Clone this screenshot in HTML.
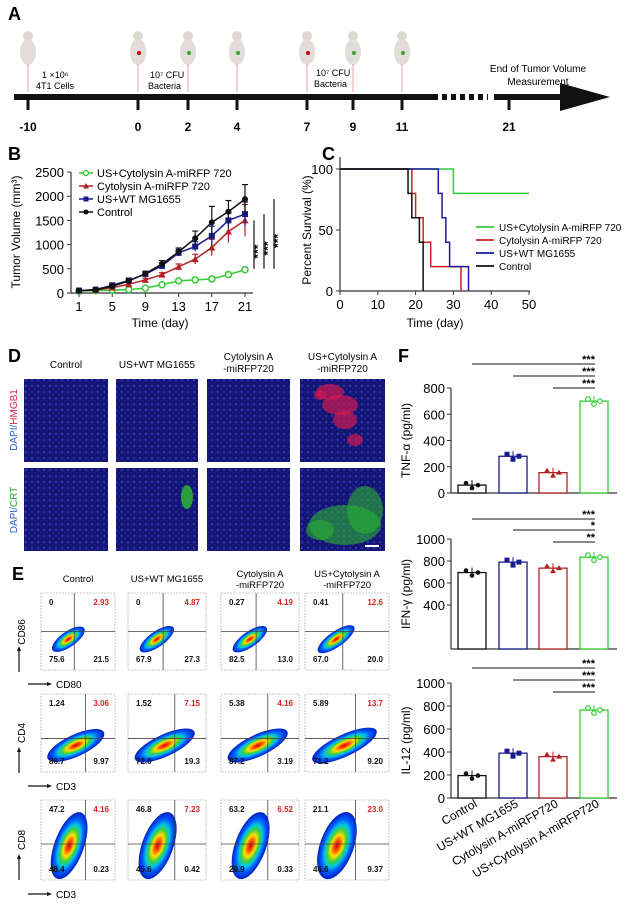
<!DOCTYPE html>
<html><head><meta charset="utf-8">
<style>
html,body{margin:0;padding:0;background:#fff;}
svg{display:block;font-family:"Liberation Sans",Arial,sans-serif;}
</style></head>
<body>
<svg id="fig" width="628" height="908" viewBox="0 0 628 908" xmlns="http://www.w3.org/2000/svg">
<defs>
<radialGradient id="flow" cx="50%" cy="50%" r="50%">
<stop offset="0" stop-color="#d00000"/><stop offset="0.18" stop-color="#ff6000"/><stop offset="0.32" stop-color="#ffe000"/><stop offset="0.48" stop-color="#40d040"/><stop offset="0.62" stop-color="#00c8e0"/><stop offset="0.78" stop-color="#0060ff"/><stop offset="1" stop-color="#0020c0"/>
</radialGradient>
<pattern id="cells" width="6" height="6" patternUnits="userSpaceOnUse">
<rect width="6" height="6" fill="#121470"/><circle cx="2" cy="2" r="1.3" fill="#2a30b0"/><circle cx="5" cy="4.5" r="1" fill="#1c2290"/>
</pattern>
</defs>

<!-- PANEL A -->
<g>
<text x="8" y="20" font-size="18" font-weight="bold">A</text>
<g id="mice"></g>
<text x="42" y="78" font-size="9">1 ×10⁶</text>
<text x="36" y="89" font-size="9">4T1 Cells</text>
<text x="150" y="78" font-size="9">10⁷ CFU</text>
<text x="148" y="89" font-size="9">Bacteria</text>
<text x="316" y="76" font-size="9">10⁷ CFU</text>
<text x="314" y="87" font-size="9">Bacteria</text>
<text x="538" y="72" font-size="10" text-anchor="middle">End of Tumor Volume</text>
<text x="538" y="85" font-size="10" text-anchor="middle">Measurement</text>
<rect x="14" y="94" width="424" height="6" fill="#111"/>
<line x1="442" y1="97" x2="488" y2="97" stroke="#111" stroke-width="6" stroke-dasharray="5,4"/>
<rect x="494" y="94" width="66" height="6" fill="#111"/>
<polygon points="560,83 610,97 560,111" fill="#111"/>
<g id="aticks"></g>
</g>

<!-- PANEL B -->
<g>
<text x="8" y="160" font-size="18" font-weight="bold">B</text>
<text transform="translate(20,232) rotate(-90)" font-size="12" text-anchor="middle">Tumor Volume (mm³)</text>
<text x="160" y="327" font-size="12" text-anchor="middle">Time (day)</text>
<g id="chartB"></g>
</g>

<!-- PANEL C -->
<g>
<text x="322" y="160" font-size="18" font-weight="bold">C</text>
<text transform="translate(311,230) rotate(-90)" font-size="12" text-anchor="middle">Percent Survival (%)</text>
<text x="435" y="327" font-size="12" text-anchor="middle">Time (day)</text>
<g id="chartC"></g>
</g>

<!-- PANEL D -->
<g>
<text x="8" y="362" font-size="18" font-weight="bold">D</text>
<g id="panelD"></g>
</g>

<!-- PANEL E -->
<g>
<text x="12" y="580" font-size="18" font-weight="bold">E</text>
<g id="panelE"></g>
</g>

<!-- PANEL F -->
<g>
<text x="398" y="362" font-size="18" font-weight="bold">F</text>
<g id="panelF"></g>
</g>
</svg>

<script>
// ---------- Panel B data ----------
const bDays = [1,3,5,7,9,11,13,15,17,19,21];
const bTicks = [1,5,9,13,17,21];
const bYTicks = [0,500,1000,1500,2000,2500];
const bNames = ["US+Cytolysin A-miRFP 720","Cytolysin A-miRFP 720","US+WT MG1655","Control"];
const bControl = [50,70,140,250,400,600,850,1130,1460,1680,1940];
const bWT = [50,70,160,260,390,560,830,960,1180,1500,1630];
const bCyt = [50,60,110,180,270,380,540,700,940,1270,1500];
const bUSCyt = [40,50,60,70,100,170,250,270,290,380,480];
const bErrControl = [10,15,30,40,50,70,80,150,330,230,300];
const bErrWT = [10,15,30,40,40,60,70,100,200,150,250];
const bErrCyt = [10,10,20,30,30,40,60,100,170,230,330];
const bErrUSCyt = [10,10,10,15,20,20,30,40,50,50,50];
// ---------- Panel C data ----------
const cTicksX = [0,10,20,30,40,50];
const cTicksY = [0,50,100];
const cUSCytT = [0,30,30,50];   const cUSCytS = [100,100,80,80];
const cCytT = [0,19,19,20,20,22,22,24,24,32,32]; const cCytS = [100,100,80,80,60,60,40,40,20,20,0];
const cWTT = [0,26,26,27,27,28,28,29,29,34,34]; const cWTS = [100,100,80,80,60,60,40,40,20,20,0];
const cCtrlT = [0,18,18,19,19,21,21,22,22]; const cCtrlS = [100,100,80,80,60,60,40,40,0];
// ---------- Panel F data ----------
const fGroups = ["Control","US+WT MG1655","Cytolysin A-miRFP720","US+Cytolysin A-miRFP720"];
const fTNF = [60,280,155,700];
const fIFN = [695,790,735,835];
const fIL12 = [195,390,360,765];
const fTNFTicks = [0,200,400,600,800];
const fIFNTicks = [400,600,800,1000];
const fIL12Ticks = [0,200,400,600,800,1000];
// ---------- Panel E data ----------
const eRow1 = [["0","2.93","75.6","21.5"],["0","4.87","67.9","27.3"],["0.27","4.19","82.5","13.0"],["0.41","12.6","67.0","20.0"]];
const eRow2 = [["1.24","3.06","86.7","9.97"],["1.52","7.15","72.0","19.3"],["5.38","4.16","87.2","3.19"],["5.89","13.7","71.2","9.20"]];
const eRow3 = [["47.2","4.16","48.4","0.23"],["46.8","7.23","45.6","0.42"],["63.2","6.52","29.9","0.33"],["21.1","23.0","46.6","9.37"]];

const NS="http://www.w3.org/2000/svg";
function mk(parent,tag,attrs,text){const e=document.createElementNS(NS,tag);for(const k in attrs)e.setAttribute(k,attrs[k]);if(text!==undefined)e.textContent=text;parent.appendChild(e);return e;}

// ---------- Panel A ----------
(function(){
  const mice=document.getElementById('mice');
  const mx=[28,138,188,237,307,353,402];
  const dots=["#c00","#c00","#3a3","#3a3","#c00","#3a3","#3a3"];
  mx.forEach((x,i)=>{
    const g=mk(mice,'g',{});
    
    
    mk(g,'ellipse',{cx:x,cy:36,rx:5,ry:5,fill:'#ddd8d2'});
    mk(g,'ellipse',{cx:x,cy:52,rx:8,ry:13,fill:'#e2ddd7'});
    mk(g,'line',{x1:x,y1:64,x2:x,y2:92,stroke:'#e8a0a0','stroke-width':1});
    if(i>0)mk(g,'circle',{cx:x+1,cy:53,r:2,fill:dots[i]});
  });
  const at=document.getElementById('aticks');
  const tl=[-10,0,2,4,7,9,11,21], tx=[28,138,188,237,307,353,402,509];
  tl.forEach((t,i)=>{
    const l=mk(at,'rect',{x:tx[i]-1.5,y:100,width:3,height:10,fill:'#111'});
    
    
    const tt=mk(at,'text',{x:tx[i],y:131,'font-size':12,'font-weight':'bold','text-anchor':'middle'},String(t));
    
    
  });
})();

// ---------- Panel B ----------
(function(){
  const g=document.getElementById('chartB');
  const x=d=>79+(d-1)*(245-79)/20;
  const y=v=>293-v*(293-172)/2500;
  mk(g,'line',{x1:71,y1:y(2500),x2:71,y2:293,stroke:'#333','stroke-width':1.2});
  mk(g,'line',{x1:71,y1:293,x2:253,y2:293,stroke:'#333','stroke-width':1.2});
  bYTicks.forEach(v=>{
    mk(g,'line',{x1:67,y1:y(v),x2:71,y2:y(v),stroke:'#333'});
    const t=mk(g,'text',{x:64,y:y(v)+5,'font-size':13,'text-anchor':'end'},String(v));
    
    
  });
  bTicks.forEach(d=>{
    mk(g,'line',{x1:x(d),y1:293,x2:x(d),y2:297,stroke:'#333'});
    const t=mk(g,'text',{x:x(d),y:311,'font-size':13,'text-anchor':'middle'},String(d));
    
    
  });
  const series=[[bControl,bErrControl,'#111','circle'],[bWT,bErrWT,'#1a1a8c','square'],[bCyt,bErrCyt,'#b22222','tri'],[bUSCyt,bErrUSCyt,'#33cc33','open']];
  series.slice().reverse().forEach(s=>{
    const [vals,errs,col,shape]=s;
    let d='';
    vals.forEach((v,i)=>{d+=(i?'L':'M')+x(bDays[i])+','+y(v);});
    const p=mk(g,'path',{d:d,fill:'none',stroke:col,'stroke-width':1.5});
    
    
    vals.forEach((v,i)=>{
      const cx=x(bDays[i]),cy=y(v);
      mk(g,'line',{x1:cx,y1:y(v+errs[i]),x2:cx,y2:y(Math.max(0,v-errs[i])),stroke:col,'stroke-width':1.2});
      mk(g,'line',{x1:cx-3,y1:y(v+errs[i]),x2:cx+3,y2:y(v+errs[i]),stroke:col,'stroke-width':1.2});
      let m;
      if(shape==='circle')m=mk(g,'circle',{cx:cx,cy:cy,r:3,fill:col});
      else if(shape==='square')m=mk(g,'rect',{x:cx-3,y:cy-3,width:6,height:6,fill:col});
      else if(shape==='tri')m=mk(g,'polygon',{points:`${cx},${cy-3.5} ${cx+3.5},${cy+3} ${cx-3.5},${cy+3}`,fill:col});
      else m=mk(g,'circle',{cx:cx,cy:cy,r:3,fill:'#fff',stroke:col,'stroke-width':1.5});
      
      
    });
  });
  const lc=['#33cc33','#b22222','#1a1a8c','#111'], ls=['open','tri','square','circle'];
  bNames.forEach((n,i)=>{
    const ly=173+i*13;
    const lg=mk(g,'g',{});
    
    
    mk(lg,'line',{x1:79,y1:ly,x2:93,y2:ly,stroke:lc[i],'stroke-width':1.5});
    if(ls[i]==='open')mk(lg,'circle',{cx:86,cy:ly,r:2.5,fill:'#fff',stroke:lc[i],'stroke-width':1.3});
    else if(ls[i]==='tri')mk(lg,'polygon',{points:`86,${ly-3} 89,${ly+2.5} 83,${ly+2.5}`,fill:lc[i]});
    else if(ls[i]==='square')mk(lg,'rect',{x:83.5,y:ly-2.5,width:5,height:5,fill:lc[i]});
    else mk(lg,'circle',{cx:86,cy:ly,r:2.5,fill:lc[i]});
    mk(lg,'text',{x:97,y:ly+4,'font-size':11},n);
  });
  [[254,y(1500),y(500)],[264,y(1630),y(500)],[274,y(1940),y(500)]].forEach(s=>{
    const l=mk(g,'line',{x1:s[0],y1:s[1],x2:s[0],y2:s[2],stroke:'#111','stroke-width':1.2});
    
    
    const t=mk(g,'text',{transform:`translate(${s[0]+8},${(s[1]+s[2])/2+14}) rotate(-90)`,'font-size':12,'font-weight':'bold'},'***');
    
    
  });
})();

// ---------- Panel C ----------
(function(){
  const g=document.getElementById('chartC');
  const x=t=>340+t*(529-340)/50;
  const y=s=>291-s*(291-169)/100;
  mk(g,'line',{x1:340,y1:157,x2:340,y2:291,stroke:'#333','stroke-width':1.2});
  mk(g,'line',{x1:340,y1:291,x2:530,y2:291,stroke:'#333','stroke-width':1.2});
  cTicksY.forEach(v=>{
    mk(g,'line',{x1:336,y1:y(v),x2:340,y2:y(v),stroke:'#333'});
    const t=mk(g,'text',{x:333,y:y(v)+5,'font-size':13,'text-anchor':'end'},String(v));
    
    
  });
  cTicksX.forEach(v=>{
    mk(g,'line',{x1:x(v),y1:291,x2:x(v),y2:295,stroke:'#333'});
    const t=mk(g,'text',{x:x(v),y:309,'font-size':13,'text-anchor':'middle'},String(v));
    
    
  });
  const ser=[[cUSCytT,cUSCytS,'#33cc33'],[cCytT,cCytS,'#cc2222'],[cWTT,cWTS,'#1a1aa0'],[cCtrlT,cCtrlS,'#111']];
  ser.forEach(s=>{
    let d='';
    s[0].forEach((t,i)=>{d+=(i?'L':'M')+x(t)+','+y(s[1][i]);});
    const p=mk(g,'path',{d:d,fill:'none',stroke:s[2],'stroke-width':1.5});
    
    
  });
  bNames.forEach((n,i)=>{
    const ly=227+i*13;
    const lg=mk(g,'g',{});
    
    
    mk(lg,'line',{x1:476,y1:ly,x2:494,y2:ly,stroke:ser[i][2],'stroke-width':1.8});
    mk(lg,'text',{x:499,y:ly+4,'font-size':10},n);
  });
})();

// ---------- Panel D ----------
(function(){
  const g=document.getElementById('panelD');
  const hdr=[["Control"],["US+WT MG1655"],["Cytolysin A","-miRFP720"],["US+Cytolysin A","-miRFP720"]];
  const cx=[24,116,207,300], cw=[84,82,83,85];
  hdr.forEach((h,i)=>{
    h.forEach((line,j)=>{
      const t=mk(g,'text',{x:cx[i]+cw[i]/2,y:(h.length===1?368:360+j*12),'font-size':10,'text-anchor':'middle'},line);
      
      
    });
    [379,468].forEach((ry,r)=>{
      const im=mk(g,'rect',{x:cx[i],y:ry,width:cw[i],height:83,fill:'url(#cells)'});
      
      
    });
  });
  [[330,392,14,8],[340,405,18,10],[345,420,12,9],[355,440,8,6],[320,395,6,5]].forEach(c=>mk(g,'ellipse',{cx:c[0],cy:c[1],rx:c[2],ry:c[3],fill:'#d01850',opacity:0.7}));
  [[345,525,36,20],[365,510,18,24],[320,530,14,10]].forEach(c=>mk(g,'ellipse',{cx:c[0],cy:c[1],rx:c[2],ry:c[3],fill:'#28b030',opacity:0.6}));
  mk(g,'ellipse',{cx:187,cy:497,rx:6,ry:12,fill:'#30c030',opacity:0.8});
  mk(g,'rect',{x:365,y:545,width:14,height:2,fill:'#fff'});
  const l1=mk(g,'text',{transform:'translate(17,420) rotate(-90)','font-size':10,'text-anchor':'middle'});
  
  
  mk(l1,'tspan',{fill:'#2060d0'},'DAPI/');mk(l1,'tspan',{fill:'#e02040'},'HMGB1');
  const l2=mk(g,'text',{transform:'translate(17,510) rotate(-90)','font-size':10,'text-anchor':'middle'});
  
  
  mk(l2,'tspan',{fill:'#2060d0'},'DAPI/');mk(l2,'tspan',{fill:'#20b020'},'CRT');
})();

// ---------- Panel E ----------
(function(){
  const g=document.getElementById('panelE');
  const hdr=[["Control"],["US+WT MG1655"],["Cytolysin A","-miRFP720"],["US+Cytolysin A","-miRFP720"]];
  const cx=[41,128,221,305], w=[74,78,78,84];
  hdr.forEach((h,i)=>h.forEach((line,j)=>{
    const t=mk(g,'text',{x:cx[i]+w[i]/2,y:(h.length===1?582:577+j*11),'font-size':9.5,'text-anchor':'middle'},line);
    
    
  }));
  const rows=[[593,77,eRow1,0.45,0.5,[0.37,0.6,0.26,0.1,-35]],[694,78,eRow2,0.6,0.57,[0.47,0.66,0.42,0.14,-25]],[800,80,eRow3,0.6,0.55,[0.38,0.57,0.2,0.44,20]]];
  rows.forEach((r,ri)=>{
    const [ry,rh,vals,qx,qy,b]=r;
    vals.forEach((v,i)=>{
      const px=cx[i], pw=w[i];
      const pg=mk(g,'g',{});
      
      
      mk(pg,'rect',{x:px,y:ry,width:pw,height:rh,fill:'#fff',stroke:'#999','stroke-width':0.6,'stroke-dasharray':'2,1'});
      const ex=px+pw*b[0], ey=ry+rh*b[1];
      mk(pg,'ellipse',{cx:ex,cy:ey,rx:pw*b[2],ry:rh*b[3],fill:'url(#flow)',transform:`rotate(${b[4]} ${ex} ${ey})`});
      mk(pg,'line',{x1:px+pw*qx,y1:ry,x2:px+pw*qx,y2:ry+rh,stroke:'#444','stroke-width':0.8});
      mk(pg,'line',{x1:px,y1:ry+rh*qy,x2:px+pw,y2:ry+rh*qy,stroke:'#444','stroke-width':0.8});
      const pairs=[[px+8,ry+12,'start','#111',v[0]],[px+pw-6,ry+12,'end','#e02020',v[1]],[px+8,ry+rh-8,'start','#111',v[2]],[px+pw-6,ry+rh-8,'end','#111',v[3]]];
      pairs.forEach(q=>{
        const t=mk(pg,'text',{x:q[0],y:q[1],'font-size':8,'font-weight':'bold','text-anchor':q[2],fill:q[3]},q[4]);
        
        
      });
    });
  });
  const yl=[["CD86",632],["CD4",733],["CD8",840]], xl=[["CD80",688],["CD3",790],["CD3",898]];
  yl.forEach(a=>{
    const t=mk(g,'text',{transform:`translate(25,${a[1]}) rotate(-90)`,'font-size':10,'text-anchor':'middle'},a[0]);
    
    
    mk(g,'line',{x1:19,y1:a[1]+40,x2:19,y2:a[1]+18,stroke:'#111','stroke-width':1.2});
    mk(g,'polygon',{points:`19,${a[1]+14} 17,${a[1]+19} 21,${a[1]+19}`,fill:'#111'});
  });
  xl.forEach(a=>{
    mk(g,'line',{x1:28,y1:a[1]-4,x2:48,y2:a[1]-4,stroke:'#111','stroke-width':1.2});
    mk(g,'polygon',{points:`52,${a[1]-4} 47,${a[1]-6} 47,${a[1]-2}`,fill:'#111'});
    const t=mk(g,'text',{x:56,y:a[1],'font-size':10},a[0]);
    
    
  });
})();

// ---------- Panel F ----------
(function(){
  const g=document.getElementById('panelF');
  const centers=[472,513,553,594];
  const cols=['#111','#1a1a8c','#b22222','#33cc33'];
  const charts=[
    {vals:fTNF,ticks:fTNFTicks,top:388,bot:493,max:800,title:'TNF-α (pg/ml)',sig:[[0,'***'],[1,'***'],[2,'***']],sigY:[364,376,388]},
    {vals:fIFN,ticks:fIFNTicks,top:539,bot:649,max:1000,title:'IFN-γ (pg/ml)',sig:[[0,'***'],[1,'*'],[2,'**']],sigY:[519,530,542]},
    {vals:fIL12,ticks:fIL12Ticks,top:683,bot:798,max:1000,title:'IL-12 (pg/ml)',sig:[[0,'***'],[1,'***'],[2,'***']],sigY:[668,680,692]}
  ];
  charts.forEach((c,ci)=>{
    const cg=mk(g,'g',{});
    
    
    const y=v=>c.bot-v*(c.bot-c.top)/c.max;
    mk(cg,'line',{x1:451,y1:c.top,x2:451,y2:c.bot,stroke:'#333','stroke-width':1.2});
    mk(cg,'line',{x1:451,y1:c.bot,x2:617,y2:c.bot,stroke:'#333','stroke-width':1.2});
    c.ticks.forEach(v=>{
      mk(cg,'line',{x1:447,y1:y(v),x2:451,y2:y(v),stroke:'#333'});
      const t=mk(cg,'text',{x:445,y:y(v)+5,'font-size':13,'text-anchor':'end'},String(v));
      
      
    });
    const tt=mk(cg,'text',{transform:`translate(410,${(c.top+c.bot)/2}) rotate(-90)`,'font-size':12,'text-anchor':'middle'},c.title);
    
    
    c.vals.forEach((v,i)=>{
      const b=mk(cg,'rect',{x:centers[i]-14,y:y(v),width:28,height:c.bot-y(v),fill:'#fff',stroke:cols[i],'stroke-width':1.3});
      
      
      mk(cg,'line',{x1:centers[i],y1:y(v)-5,x2:centers[i],y2:y(v)+5,stroke:cols[i]});
      [-6,0,6].forEach((dx,k)=>{
        const dy=[-2,3,0][k];
        const pt=i===3?mk(cg,'circle',{cx:centers[i]+dx,cy:y(v)+dy,r:2.3,fill:'#fff',stroke:cols[i],'stroke-width':1.2}):
          i===2?mk(cg,'polygon',{points:`${centers[i]+dx},${y(v)+dy-3} ${centers[i]+dx+3},${y(v)+dy+2} ${centers[i]+dx-3},${y(v)+dy+2}`,fill:cols[i]}):
          i===1?mk(cg,'rect',{x:centers[i]+dx-2.5,y:y(v)+dy-2.5,width:5,height:5,fill:cols[i]}):
          mk(cg,'circle',{cx:centers[i]+dx,cy:y(v)+dy,r:2.3,fill:cols[i]});
        
        
      });
    });
    c.sig.forEach((s,k)=>{
      const sy=c.sigY[k];
      const l=mk(cg,'line',{x1:centers[s[0]],y1:sy,x2:595,y2:sy,stroke:'#444','stroke-width':1.3});
      
      
      const t=mk(cg,'text',{x:595,y:sy-1,'font-size':11,'font-weight':'bold','text-anchor':'end'},s[1]);
      
      
    });
  });
  fGroups.forEach((n,i)=>{
    const t=mk(g,'text',{transform:`translate(${centers[i]+6},806) rotate(-30)`,'font-size':12,'text-anchor':'end'},n);
    
    
  });
})();
</script>
</body></html>
